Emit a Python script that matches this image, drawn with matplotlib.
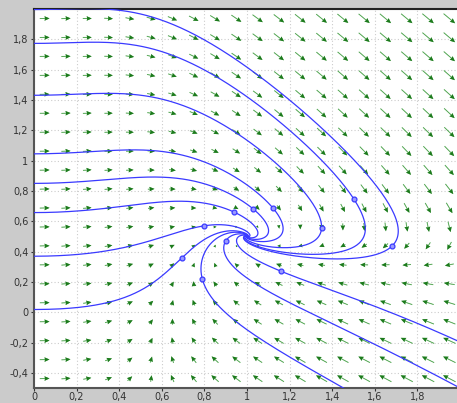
import numpy as np
import matplotlib
matplotlib.use("Agg")
import matplotlib.pyplot as plt

# Brusselator: x' = a - (b+1)x + x^2 y ,  y' = b x - x^2 y
a = 1.0
b = 0.5

# starting points of the trajectories (marked with small circles)
x0 = [0.695, 0.80, 0.94, 1.03, 1.12, 1.35, 1.50, 1.68, 0.79, 1.16, 0.90]
y0 = [0.36, 0.57, 0.66, 0.68, 0.69, 0.555, 0.75, 0.435, 0.22, 0.27, 0.47]

xmin, xmax = 0.0, 2.0
ymin, ymax = -0.5, 2.0


def field(x, y):
    return a - (b + 1) * x + x * x * y, b * x - x * x * y


def trajectory(xs, ys, dt, nsteps):
    px, py = [xs], [ys]
    x, y = xs, ys
    for i in range(nsteps):
        k1 = field(x, y)
        k2 = field(x + dt / 2 * k1[0], y + dt / 2 * k1[1])
        k3 = field(x + dt / 2 * k2[0], y + dt / 2 * k2[1])
        k4 = field(x + dt * k3[0], y + dt * k3[1])
        x = x + dt / 6 * (k1[0] + 2 * k2[0] + 2 * k3[0] + k4[0])
        y = y + dt / 6 * (k1[1] + 2 * k2[1] + 2 * k3[1] + k4[1])
        px.append(x)
        py.append(y)
        if x < xmin - 0.1 or x > xmax + 0.1 or y < ymin - 0.1 or y > ymax + 0.1:
            break
    return np.array(px), np.array(py)


W, H = 457, 403
fig = plt.figure(figsize=(W / 100, H / 100), dpi=100)
fig.patch.set_facecolor("#cbcbcb")
ax = fig.add_axes([34 / W, 15 / H, 426 / W, 379 / H])
ax.set_facecolor("white")
ax.set_xlim(xmin, xmax)
ax.set_ylim(ymin, ymax)

# pixels per data unit, for drawing arrows in screen directions
sx = 426 / (xmax - xmin)
sy = 379 / (ymax - ymin)

gx = np.arange(0.05, 2.0, 0.1)
gy = np.arange(-0.4375, 2.0, 0.125)
GX, GY = np.meshgrid(gx, gy)
U, V = field(GX, GY)
PU, PV = U * sx, V * sy
norm = np.hypot(PU, PV)
mag = np.hypot(U, V)
L = 16 * mag / (mag + 0.6)
PU = PU / norm * L
PV = PV / norm * L
# light shafts, then dark heads on top
ax.quiver(GX, GY, PU, PV, angles="uv", scale_units="dots", scale=1,
          pivot="middle", units="dots", width=1.0, headwidth=4.5,
          headlength=5, headaxislength=4.5, color="#6cb86c", zorder=2)
ax.quiver(GX, GY, PU, PV, angles="uv", scale_units="dots", scale=1,
          pivot="middle", units="dots", width=0.2, headwidth=22.5,
          headlength=25, headaxislength=22.5, color="#1d7a1d", zorder=2)

for xs, ys in zip(x0, y0):
    fx, fy = trajectory(xs, ys, 0.01, 4000)
    bx, by = trajectory(xs, ys, -0.01, 2000)
    cx = np.concatenate([bx[::-1], fx[1:]])
    cy = np.concatenate([by[::-1], fy[1:]])
    ax.plot(cx, cy, color="#3a3aff", lw=0.9, zorder=3)
    ax.plot(xs, ys, "o", ms=3.5, mfc="#9a9aff", mec="#3a3aff", mew=0.9, zorder=4)

xt = np.arange(0, 2.0, 0.2)
yt = np.arange(-0.4, 2.0, 0.2)
ax.set_xticks(xt)
ax.set_yticks(yt)
ax.set_xticklabels([("%g" % round(v, 1)).replace(".", ",") for v in xt])
ax.set_yticklabels([("%g" % round(v, 1)).replace(".", ",") for v in yt])
ax.tick_params(labelsize=7, colors="#333333", length=2.5, width=0.8, pad=1.5)
ax.tick_params(axis="x", pad=0.5)
ax.grid(True, color="#cccccc", linestyle=(0, (1, 2)), linewidth=0.8)
ax.set_axisbelow(True)

for s in ["left", "bottom"]:
    ax.spines[s].set_color("#555555")
    ax.spines[s].set_linewidth(1.5)
ax.spines["top"].set_color("#222222")
ax.spines["top"].set_linewidth(1.5)
ax.spines["right"].set_visible(False)

fig.savefig("out.png", dpi=100, facecolor=fig.get_facecolor())
